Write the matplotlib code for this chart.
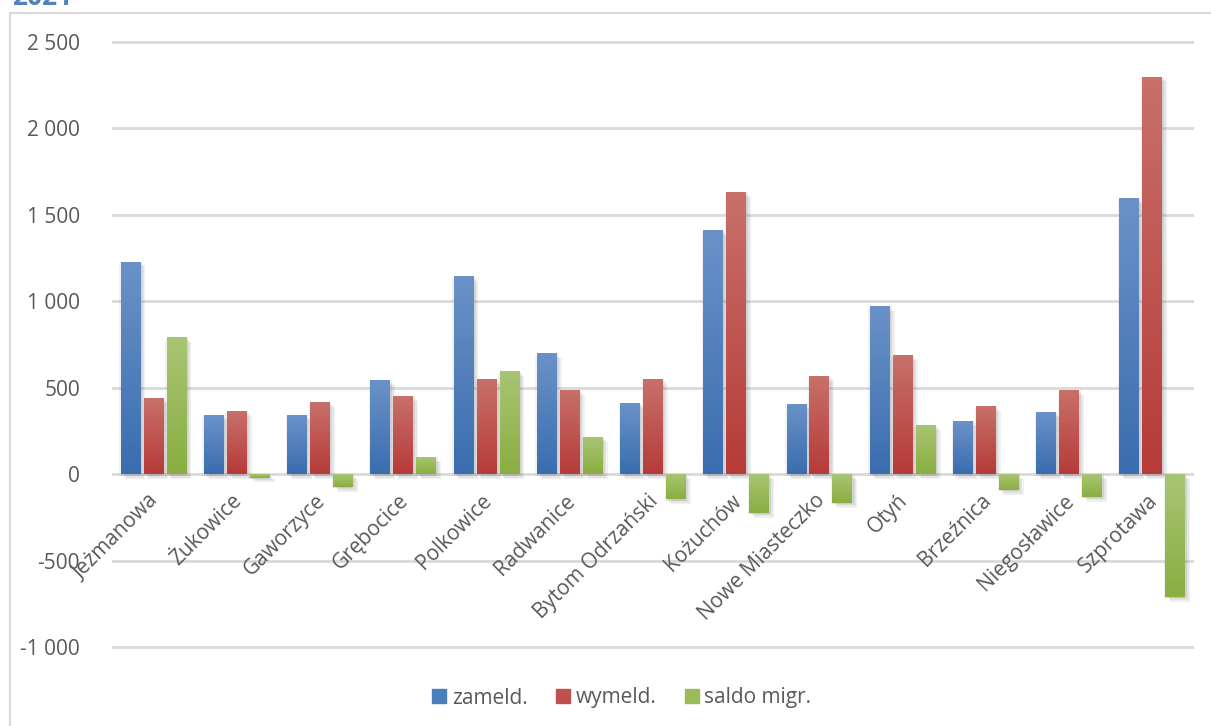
import matplotlib
matplotlib.use("Agg")
import matplotlib.pyplot as plt
import numpy as np
from matplotlib.colors import LinearSegmentedColormap
from matplotlib.lines import Line2D
from matplotlib import patheffects as pe
from matplotlib.ticker import FuncFormatter, MultipleLocator

categories = ["Jeżmanowa", "Żukowice", "Gaworzyce", "Grębocice", "Polkowice",
              "Radwanice", "Bytom Odrzański", "Kożuchów", "Nowe Miasteczko",
              "Otyń", "Brzeźnica", "Niegosławice", "Szprotawa"]
zameld = [1230, 341, 341, 543, 1145, 700, 410, 1410, 405, 971, 306, 358, 1595]
wymeld = [439, 364, 416, 451, 549, 486, 549, 1630, 566, 688, 393, 485, 2300]
saldo = [792, -20, -75, 98, 595, 216, -145, -224, -166, 283, -92, -131, -709]
series_names = ["zameld.", "wymeld.", "saldo migr."]
title_text = "2021"

FONT = "Open Sans"
TXT = "#595959"
W, H = 1211, 726
fig = plt.figure(figsize=(W / 100, H / 100), dpi=100)

ymin, ymax = -1010, 2510
scale = (647 - 42) / 3500.0
top_px = 42 - (ymax - 2500) * scale
bot_px = 647 + (-1000 - ymin) * scale
ax = fig.add_axes([112 / W, 1 - bot_px / H, (1194 - 112) / W, (bot_px - top_px) / H])

base_cols = ["#4A7EBB", "#C0504D", "#9BBB59"]
grads = [("#3A6DAF", "#6A92C8"), ("#B63B39", "#C8706A"), ("#8AAE41", "#A8C573")]
data = [zameld, wymeld, saldo]
x = np.arange(len(categories))
slot = 0.276
bw = 0.24

shadow = [pe.SimplePatchShadow(offset=(o[0], o[1]), shadow_rgbFace="#7f7f7f", alpha=0.10)
          for o in [(0, -1), (1.5, -1.5), (2.5, -2.5), (-1, -1), (1, 0), (3.5, -3.5)]]

for k, (vals, col, (dark, light)) in enumerate(zip(data, base_cols, grads)):
    cmap = LinearSegmentedColormap.from_list("g%d" % k, [dark, light])
    bars = ax.bar(x + (k - 1) * slot, vals, bw, color=col, zorder=2,
                  path_effects=shadow + [pe.Normal()])
    for b, v in zip(bars, vals):
        x0 = b.get_x()
        y0, y1 = sorted([0, v])
        grad = np.linspace(0, 1, 100).reshape(-1, 1)
        im = ax.imshow(grad, extent=[x0, x0 + bw, y0, y1], origin="lower",
                       cmap=cmap, aspect="auto", zorder=2.5, interpolation="bilinear")
        im.set_clip_path(b)

ax.set_xlim(-0.5, len(categories) - 0.5)
ax.set_ylim(ymin, ymax)
ax.set_aspect("auto")
ax.yaxis.set_major_locator(MultipleLocator(500))
ax.yaxis.set_major_formatter(FuncFormatter(lambda v, p: f"{int(v):,}".replace(",", " ")))
ax.grid(axis="y", color="#D9D9D9", lw=2)
ax.set_axisbelow(True)
for s in ax.spines.values():
    s.set_visible(False)
ax.set_xticks([])
ax.tick_params(axis="y", length=0, pad=23, labelsize=15, labelcolor=TXT)
for t in ax.get_yticklabels():
    t.set_fontfamily(FONT)

for i, name in enumerate(categories):
    ax.annotate(name, xy=(i, 0), xytext=(1.5, -17), textcoords="offset points",
                rotation=45, ha="right", va="center", rotation_mode="anchor",
                fontsize=15, color=TXT, family=FONT, zorder=5)

handles = [Line2D([], [], marker="s", ls="", markersize=10, color=c) for c in base_cols]
fig.legend(handles, series_names, loc="center", bbox_to_anchor=(621 / W, 1 - 698 / H),
           ncol=3, frameon=False, prop={"family": FONT, "size": 15},
           labelcolor=TXT, handletextpad=0.2, columnspacing=1.3, handlelength=0.8)

# chart frame
fig.add_artist(Line2D([10.5 / W, 10.5 / W], [1 - 13 / H, 0], color="#D9D9D9", lw=1.5,
                      transform=fig.transFigure))
fig.add_artist(Line2D([10.5 / W, 1], [1 - 13 / H, 1 - 13 / H], color="#D9D9D9", lw=1.5,
                      transform=fig.transFigure))

fig.text(12 / W, 1 - 5 / H, title_text, ha="left", va="baseline", fontsize=19,
         fontweight="bold", color="#4F81BD", family=FONT)

fig.savefig("out.png", dpi=100)
